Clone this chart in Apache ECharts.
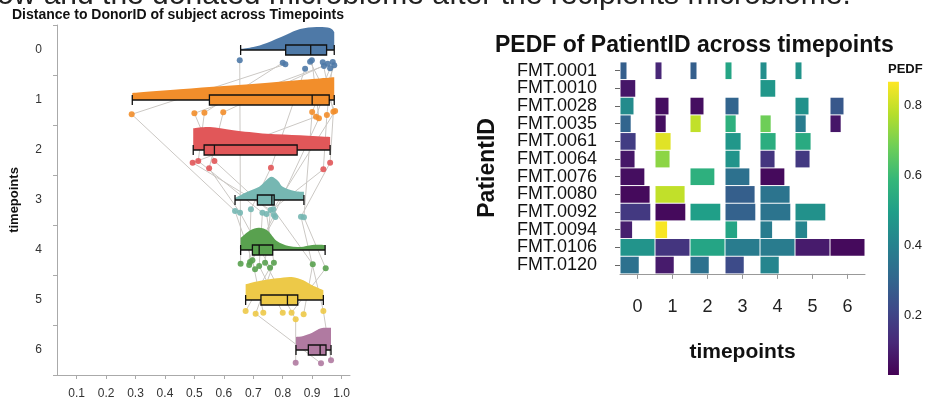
<!DOCTYPE html>
<html><head><meta charset="utf-8">
<script src="https://cdn.jsdelivr.net/npm/echarts@6/dist/echarts.min.js"></script>
<style>html,body{margin:0;padding:0;background:#fff}#c{width:925px;height:404px}</style>
</head><body><div id="c"></div>
<script>
// ---------- data ----------
const timepoints = ['0','1','2','3','4','5','6'];
const tpColors = ['#4e79a7','#f28e2b','#e15759','#76b7b2','#59a14f','#edc948','#b07aa1'];
const distanceTicks = [0.1,0.2,0.3,0.4,0.5,0.6,0.7,0.8,0.9,1.0];
// boxplot stats per timepoint: [min, Q1, median, Q3, max]
const boxStats = [
  [0.657,0.810,0.895,0.949,0.975],
  [0.289,0.551,0.900,0.958,0.975],
  [0.496,0.533,0.568,0.849,0.961],
  [0.638,0.714,0.763,0.771,0.872],
  [0.657,0.697,0.720,0.766,0.944],
  [0.674,0.726,0.816,0.851,0.938],
  [0.845,0.887,0.927,0.947,0.964]
];
// half-violin density profiles per timepoint: [distance, relative density]
const density0 = [[0.657,0.04],[0.70,0.12],[0.746,0.28],[0.81,0.6],[0.859,0.84],[0.915,0.92],[0.96,0.88],[0.975,0.72]];
const density1 = [[0.289,0.28],[0.45,0.43],[0.6,0.56],[0.75,0.69],[0.9,0.84],[0.975,0.91]];
const density2 = [[0.496,0.87],[0.553,0.92],[0.632,0.79],[0.746,0.65],[0.859,0.59],[0.961,0.52]];
const density3 = [[0.638,0.08],[0.68,0.33],[0.72,0.53],[0.745,0.8],[0.763,0.93],[0.785,0.75],[0.8,0.53],[0.84,0.36],[0.872,0.33]];
const density4 = [[0.657,0.48],[0.69,0.79],[0.72,0.89],[0.75,0.76],[0.78,0.36],[0.82,0.16],[0.86,0.12],[0.9,0.2],[0.944,0.2]];
const density5 = [[0.674,0.63],[0.72,0.76],[0.78,0.87],[0.83,0.92],[0.87,0.79],[0.9,0.59],[0.938,0.39]];
const density6 = [[0.845,0.52],[0.87,0.56],[0.9,0.69],[0.93,0.87],[0.96,0.89],[0.964,0.88]];
const densities = [density0,density1,density2,density3,density4,density5,density6];

const patients = ['FMT.0001','FMT.0010','FMT.0028','FMT.0035','FMT.0061','FMT.0064','FMT.0076','FMT.0080','FMT.0092','FMT.0094','FMT.0106','FMT.0120'];
// distance to donor per patient per timepoint
const distanceToDonor = [
  [0.800,0.534,0.513,0.731,0.720,0.800,null],
  [0.654,null,null,null,0.657,null,null],
  [0.936,0.972,0.961,0.862,null,0.938,0.964],
  [0.975,0.913,0.494,0.759,0.740,0.844,0.844],
  [0.893,0.978,null,0.768,0.902,0.871,null],
  [0.899,0.923,null,0.770,0.697,0.734,null],
  [0.876,null,0.760,0.692,0.686,null,null],
  [0.809,0.287,null,0.638,0.706,null,null],
  [0.953,0.598,0.550,0.655,0.757,0.674,null],
  [0.961,0.900,null,0.872,0.946,0.830,null],
  [0.970,0.950,0.938,0.745,0.770,0.708,0.930],
  [0.940,0.500,0.568,0.775,0.689,null,null]
];
// vertical jitter of each point (fraction of a band)
const jitter = [
  [0.254,0.254,0.22,0.254,0.32,0.254,0],
  [0.206,0,0,0,0.274,0,0],
  [0.246,0.234,0.254,0.334,0,0.22,0.206],
  [0.306,0.334,0.254,0.2,0.254,0.386,0.254],
  [0.234,0.22,0,0.186,0.286,0.286,0],
  [0.206,0.366,0,0.3,0.206,0.254,0],
  [0.374,0,0.354,0.186,0.3,0,0],
  [0.286,0.286,0,0.22,0.386,0,0],
  [0.274,0.246,0.366,0.254,0.354,0.22,0],
  [0.366,0.24,0,0.346,0.366,0.254,0],
  [0.24,0.3,0.386,0.28,0.254,0.274,0.266],
  [0.32,0.266,0.22,0.34,0.24,0,0]
];

// PEDF heatmap cells: [timepoint, patient row, PEDF]
const pedfCells = [
  [0,0,0.28],[1,0,0.12],[2,0,0.28],[3,0,0.52],[4,0,0.44],[5,0,0.46],
  [0,1,0.08],[4,1,0.47],
  [0,2,0.43],[1,2,0.06],[2,2,0.06],[3,2,0.30],[5,2,0.45],[6,2,0.26],
  [0,3,0.30],[1,3,0.06],[2,3,0.79],[3,3,0.56],[4,3,0.68],[5,3,0.38],[6,3,0.08],
  [0,4,0.18],[1,4,0.83],[3,4,0.47],[4,4,0.55],[5,4,0.54],
  [0,5,0.08],[1,5,0.72],[3,5,0.46],[4,5,0.16],[5,5,0.17],
  [0,6,0.06],[2,6,0.56],[3,6,0.34],[4,6,0.05],
  [0,7,0.05],[1,7,0.79],[3,7,0.28],[4,7,0.35],
  [0,8,0.17],[1,8,0.05],[2,8,0.50],[3,8,0.29],[4,8,0.35],[5,8,0.45],
  [0,9,0.10],[1,9,0.86],[3,9,0.52],[4,9,0.38],[5,9,0.41],
  [0,10,0.46],[1,10,0.16],[2,10,0.52],[3,10,0.38],[4,10,0.38],[5,10,0.09],[6,10,0.05],
  [0,11,0.34],[1,11,0.09],[2,11,0.34],[3,11,0.22],[4,11,0.41]
];
// relative tile width per patient row
const rowWidths = [0.2,0.45,0.4,0.32,0.46,0.43,0.71,0.86,0.88,0.36,1.0,0.55];
const pedfRange = [0.029,0.867];
const pedfTicks = [0.2,0.4,0.6,0.8];
const viridis = ['#440154','#482878','#3e4989','#31688e','#26828e','#1f9e89','#35b779','#6ece58','#b5de2b','#fde725'];

// ---------- derived series data ----------
const pointData = [], linkData = [];
distanceToDonor.forEach((row, p) => {
  let prev = null;
  row.forEach((v, t) => {
    if (v == null) return;
    pointData.push([v, t, jitter[p][t]]);
    if (prev) linkData.push([prev[0], prev[1], prev[2], v, t, jitter[p][t]]);
    prev = [v, t, jitter[p][t]];
  });
});
const heatData = pedfCells.map(c => [c[0], c[1], c[2], rowWidths[c[1]]]);

function smoothThrough(pts) {
  let d = '';
  for (let i = 0; i < pts.length - 1; i++) {
    const p0 = pts[i-1] || pts[i], p1 = pts[i], p2 = pts[i+1], p3 = pts[i+2] || pts[i+1];
    const c1 = [p1[0] + (p2[0]-p0[0])/6, p1[1] + (p2[1]-p0[1])/6];
    const c2 = [p2[0] - (p3[0]-p1[0])/6, p2[1] - (p3[1]-p1[1])/6];
    d += ' C' + c1[0] + ',' + c1[1] + ' ' + c2[0] + ',' + c2[1] + ' ' + p2[0] + ',' + p2[1];
  }
  return d;
}

const FONT = '"Liberation Sans", Arial, Helvetica, sans-serif';
const chart = echarts.init(document.getElementById('c'), null, {renderer: 'canvas'});
chart.setOption({
  animation: false,
  textStyle: {fontFamily: FONT},
  title: [
    {text: 'Distance to DonorID of subject across Timepoints', left: 12, top: 8, padding: 0,
     textStyle: {fontSize: 14, fontWeight: 'bold', color: '#111', fontFamily: FONT}},
    {text: 'PEDF of PatientID across timepoints', left: 495, top: 34, padding: 0,
     textStyle: {fontSize: 23, fontWeight: 'bold', color: '#111', fontFamily: FONT}},
    {text: 'PEDF', left: 888, top: 63, padding: 0,
     textStyle: {fontSize: 13, fontWeight: 'bold', color: '#111', fontFamily: FONT}}
  ],
  graphic: [
    {type: 'text', x: -3, y: -19, silent: true,
     style: {text: 'ow and the donated microbiome after the recipients microbiome.', font: '30px ' + FONT,
             lineHeight: 30, fill: '#222', verticalAlign: 'top', align: 'left'}}
  ],
  grid: [
    {left: 57, top: 25, width: 293, height: 350},
    {left: 620, top: 61.9, width: 245, height: 212},
    {left: 888, top: 81.7, width: 18, height: 293.3}
  ],
  xAxis: [
    {type: 'value', gridIndex: 0, min: 0.0333, max: 1.0285,
     axisLine: {show: true, lineStyle: {color: '#aaa'}},
     axisTick: {show: true, length: 4, customValues: distanceTicks, lineStyle: {color: '#aaa'}},
     axisLabel: {customValues: distanceTicks, formatter: v => v.toFixed(1), fontSize: 12, color: '#333', margin: 13},
     splitLine: {show: false}},
    {type: 'category', gridIndex: 1, data: timepoints,
     axisLine: {show: true, lineStyle: {color: '#999'}},
     axisTick: {show: true, alignWithLabel: true, length: 5, lineStyle: {color: '#999'}},
     axisLabel: {fontSize: 18, color: '#222', margin: 24, interval: 0},
     name: 'timepoints', nameLocation: 'middle', nameGap: 68,
     nameTextStyle: {fontSize: 21, fontWeight: 'bold', color: '#111'}},
    {type: 'value', gridIndex: 2, show: false, min: 0, max: 1}
  ],
  yAxis: [
    {type: 'category', gridIndex: 0, data: timepoints, inverse: true,
     axisLine: {show: true, lineStyle: {color: '#aaa'}},
     axisTick: {show: true, length: 4, lineStyle: {color: '#aaa'}},
     axisLabel: {fontSize: 12, color: '#333', margin: 15, interval: 0},
     name: 'timepoints', nameLocation: 'middle', nameGap: 36,
     nameTextStyle: {fontSize: 13, fontWeight: 'bold', color: '#111'}},
    {type: 'category', gridIndex: 1, data: patients, inverse: true,
     axisLine: {show: false},
     axisTick: {show: true, alignWithLabel: true, interval: 0, length: 5, lineStyle: {color: '#666'}},
     axisLabel: {fontSize: 18, color: '#111', margin: 23, interval: 0},
     name: 'PatientID', nameLocation: 'middle', nameGap: 121,
     nameTextStyle: {fontSize: 23, fontWeight: 'bold', color: '#111'}},
    {type: 'value', gridIndex: 2, position: 'right', min: pedfRange[0], max: pedfRange[1],
     axisLine: {show: false}, axisTick: {show: false}, splitLine: {show: false},
     axisLabel: {customValues: pedfTicks, formatter: v => v.toFixed(1), fontSize: 13, color: '#222', margin: 5}}
  ],
  visualMap: {
    type: 'continuous', show: false, min: pedfRange[0], max: pedfRange[1],
    dimension: 2, seriesIndex: 4, inRange: {color: viridis}
  },
  series: [
    { // subject lines
      type: 'custom', xAxisIndex: 0, yAxisIndex: 0, z: 1, silent: true,
      data: linkData, encode: {x: [0, 3], y: [1, 4]},
      renderItem: (params, api) => {
        const bh = api.size([0, 1])[1];
        const a = api.coord([api.value(0), api.value(1)]);
        const b = api.coord([api.value(3), api.value(4)]);
        return {type: 'line', shape: {x1: a[0], y1: a[1] + api.value(2)*bh, x2: b[0], y2: b[1] + api.value(5)*bh},
                style: {stroke: '#cbc8c4', lineWidth: 1}};
      }
    },
    { // half violins
      type: 'custom', xAxisIndex: 0, yAxisIndex: 0, z: 2, silent: true,
      data: timepoints.map((t, i) => [densities[i][0][0], i]),
      encode: {x: 0, y: 1},
      renderItem: (params, api) => {
        const i = params.dataIndex;
        const prof = densities[i];
        const half = api.size([0, 1])[1] / 2;
        const tops = prof.map(p => { const c = api.coord([p[0], i]); return [c[0], c[1] - p[1]*half]; });
        const b0 = api.coord([prof[0][0], i]);
        const b1 = api.coord([prof[prof.length-1][0], i]);
        const d = 'M' + b0[0] + ',' + b0[1] + ' L' + tops[0][0] + ',' + tops[0][1] + smoothThrough(tops) +
                  ' L' + b1[0] + ',' + b1[1] + ' Z';
        return {type: 'path', shape: {pathData: d}, style: {fill: tpColors[i], stroke: null}};
      }
    },
    { // boxplots
      type: 'boxplot', xAxisIndex: 0, yAxisIndex: 0, z: 3, silent: true,
      boxWidth: [10, 10],
      itemStyle: {borderColor: '#111', borderWidth: 1.3},
      data: boxStats.map((s, i) => ({value: s, itemStyle: {color: tpColors[i]}}))
    },
    { // jittered points
      type: 'custom', xAxisIndex: 0, yAxisIndex: 0, z: 4, silent: true,
      data: pointData, encode: {x: 0, y: 1},
      renderItem: (params, api) => {
        const bh = api.size([0, 1])[1];
        const c = api.coord([api.value(0), api.value(1)]);
        return {type: 'circle', shape: {cx: c[0], cy: c[1] + api.value(2)*bh, r: 3},
                style: {fill: tpColors[api.value(1)], opacity: 0.9}};
      }
    },
    { // PEDF tiles
      type: 'custom', xAxisIndex: 1, yAxisIndex: 1, z: 2, silent: true,
      data: heatData, encode: {x: 0, y: 1},
      renderItem: (params, api) => {
        const c = api.coord([api.value(0), api.value(1)]);
        const s = api.size([1, 1]);
        const x = c[0] - s[0]/2, y = c[1] - s[1]/2;
        return {type: 'rect', shape: {x: x + 0.5, y: y + 0.5, width: s[0]*api.value(3) - 1, height: s[1] - 1},
                style: {fill: api.visual('color')}};
      }
    },
    { // colour bar
      type: 'custom', xAxisIndex: 2, yAxisIndex: 2, silent: true,
      data: [[0, pedfRange[0], 1, pedfRange[1]]], encode: {x: [0, 2], y: [1, 3]},
      renderItem: (params, api) => {
        const lo = api.coord([0, api.value(1)]);
        const hi = api.coord([1, api.value(3)]);
        return {type: 'rect', shape: {x: lo[0], y: hi[1], width: hi[0]-lo[0], height: lo[1]-hi[1]},
                style: {fill: new echarts.graphic.LinearGradient(0, 1, 0, 0,
                  viridis.map((col, k) => ({offset: k/(viridis.length-1), color: col})))}};
      }
    }
  ]
});
</script></body></html>
